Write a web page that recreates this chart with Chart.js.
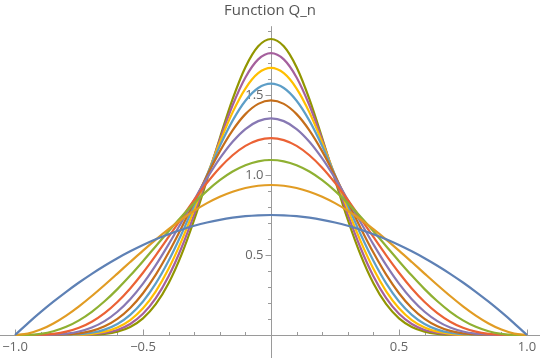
<!DOCTYPE html>
<html>
<head>
<meta charset="utf-8">
<script src="https://cdn.jsdelivr.net/npm/chart.js@4/dist/chart.umd.min.js"></script>
<style>
  html, body { margin: 0; padding: 0; background: #fff; }
  #wrap { width: 540px; height: 358px; }
</style>
</head>
<body>
<div id="wrap"><canvas id="q-chart" width="540" height="358"></canvas></div>
<script>
// sample points of x
const xs = [-1, -0.95, -0.9, -0.85, -0.8, -0.75, -0.7, -0.65, -0.6, -0.55, -0.5, -0.45, -0.4, -0.35, -0.3, -0.25, -0.2, -0.15, -0.1, -0.05,
    0, 0.05, 0.1, 0.15, 0.2, 0.25, 0.3, 0.35, 0.4, 0.45, 0.5, 0.55, 0.6, 0.65, 0.7, 0.75, 0.8, 0.85, 0.9, 0.95, 1]

const q1 = [0, .0731, .1425, .2081, .27, .3281, .3825, .4331, .48, .5231, .5625, .5981, .63, .6581, .6825, .7031, .72, .7331, .7425, .7481,
    .75, .7481, .7425, .7331, .72, .7031, .6825, .6581, .63, .5981, .5625, .5231, .48, .4331, .3825, .3281, .27, .2081, .1425, .0731, 0]
const q2 = [0, .0089, .0338, .0722, .1215, .1794, .2438, .3127, .384, .4561, .5273, .5963, .6615, .7219, .7763, .824, .864, .8958, .9188, .9328,
    .9375, .9328, .9188, .8958, .864, .824, .7763, .7219, .6615, .5963, .5273, .4561, .384, .3127, .2438, .1794, .1215, .0722, .0338, .0089, 0]
const q3 = [0, .001, .0075, .0234, .051, .0916, .1451, .2107, .2867, .3712, .4614, .5548, .6483, .739, .8242, .9012, .9677, 1.0216, 1.0613, 1.0856,
    1.0938, 1.0856, 1.0613, 1.0216, .9677, .9012, .8242, .739, .6483, .5548, .4614, .3712, .2867, .2107, .1451, .0916, .051, .0234, .0075, .001, 0]
const q4 = [0, .0001, .0016, .0073, .0207, .0451, .0832, .1369, .2064, .2912, .3893, .4977, .6126, .7296, .8438, .9505, 1.0451, 1.1234, 1.182, 1.2182,
    1.2305, 1.2182, 1.182, 1.1234, 1.0451, .9505, .8438, .7296, .6126, .4977, .3893, .2912, .2064, .1369, .0832, .0451, .0207, .0073, .0016, .0001, 0]
const q5 = [0, 0, .0003, .0022, .0082, .0217, .0467, .0869, .1453, .2234, .3212, .4366, .5661, .7042, .8446, .9802, 1.1036, 1.208, 1.2872, 1.3367,
    1.3535, 1.3367, 1.2872, 1.208, 1.1036, .9802, .8446, .7042, .5661, .4366, .3212, .2234, .1453, .0869, .0467, .0217, .0082, .0022, .0003, 0, 0]
const q6 = [0, 0, .0001, .0007, .0032, .0103, .0258, .0544, .1008, .1688, .261, .3772, .5151, .6694, .8327, .9955, 1.1478, 1.2792, 1.3805, 1.4445,
    1.4663, 1.4445, 1.3805, 1.2792, 1.1478, .9955, .8327, .6694, .5151, .3772, .261, .1688, .1008, .0544, .0258, .0103, .0032, .0007, .0001, 0, 0]
const q7 = [0, 0, 0, .0002, .0012, .0048, .0141, .0337, .0691, .1262, .2097, .3223, .4636, .6294, .8119, .9999, 1.1805, 1.3397, 1.4643, 1.5438,
    1.571, 1.5438, 1.4643, 1.3397, 1.1805, .9999, .8119, .6294, .4636, .3223, .2097, .1262, .0691, .0337, .0141, .0048, .0012, .0002, 0, 0, 0]
const q8 = [0, 0, 0, .0001, .0005, .0022, .0076, .0207, .047, .0935, .1671, .2731, .4138, .5868, .785, .9961, 1.2042, 1.3914, 1.5403, 1.6361,
    1.6692, 1.6361, 1.5403, 1.3914, 1.2042, .9961, .785, .5868, .4138, .2731, .1671, .0935, .047, .0207, .0076, .0022, .0005, .0001, 0, 0, 0]
const q9 = [0, 0, 0, 0, .0002, .001, .0041, .0126, .0317, .0688, .1323, .2299, .3669, .5435, .754, .9857, 1.2202, 1.4357, 1.6096, 1.7227,
    1.762, 1.7227, 1.6096, 1.4357, 1.2202, .9857, .754, .5435, .3669, .2299, .1323, .0688, .0317, .0126, .0041, .001, .0002, 0, 0, 0, 0]
const q10 = [0, 0, 0, 0, .0001, .0005, .0022, .0076, .0213, .0504, .1042, .1925, .3236, .5008, .7204, .9703, 1.23, 1.4735, 1.6732, 1.8043,
    1.8501, 1.8043, 1.6732, 1.4735, 1.23, .9703, .7204, .5008, .3236, .1925, .1042, .0504, .0213, .0076, .0022, .0005, .0001, 0, 0, 0, 0]

const series = [q1, q2, q3, q4, q5, q6, q7, q8, q9, q10]
const colors = ['#5E81B5', '#E19C24', '#8FB032', '#EB6235', '#8778B3', '#C56E1A', '#5D9EC7', '#FFBF00', '#A5609D', '#929600']

const x_ticks = [-1.0, -0.5, 0.5, 1.0]
const y_ticks = [0.5, 1.0, 1.5]
const title_text = 'Function Q_n'

const fmt = (v) => (v < 0 ? '\u2212' : '') + Math.abs(v).toFixed(1)

const axesPlugin = {
    id: 'mma-axes',
    beforeDatasetsDraw: (chart) => {
        const ctx = chart.ctx
        const sx = chart.scales.x
        const sy = chart.scales.y
        const x0 = Math.round(sx.getPixelForValue(0)) + 0.5
        const y0 = Math.round(sy.getPixelForValue(0)) + 0.5
        ctx.save()
        ctx.strokeStyle = '#9a9a9a'
        ctx.lineWidth = 1
        // axis lines
        ctx.beginPath()
        ctx.moveTo(0, y0)
        ctx.lineTo(540, y0)
        ctx.moveTo(x0, sy.getPixelForValue(1.93))
        ctx.lineTo(x0, 358)
        ctx.stroke()
        // x ticks, minor every 0.1
        ctx.beginPath()
        for (let i = -10; i <= 10; i++) {
            if (i === 0) continue
            const px = Math.round(sx.getPixelForValue(i / 10)) + 0.5
            const len = (i % 5 === 0) ? 6 : 3.5
            ctx.moveTo(px, y0)
            ctx.lineTo(px, y0 - len)
        }
        // y ticks
        for (let i = 1; i <= 19; i++) {
            const py = Math.round(sy.getPixelForValue(i / 10)) + 0.5
            const len = (i % 5 === 0) ? 6 : 3.5
            ctx.moveTo(x0, py)
            ctx.lineTo(x0 - len, py)
        }
        ctx.stroke()

        ctx.fillStyle = '#666666'
        ctx.font = '13px "Open Sans", "DejaVu Sans", sans-serif'
        ctx.textAlign = 'center'
        ctx.textBaseline = 'middle'
        x_ticks.forEach(v => {
            ctx.fillText(fmt(v), sx.getPixelForValue(v), y0 + 12)
        })
        ctx.textAlign = 'right'
        y_ticks.forEach(v => {
            ctx.fillText(fmt(v), x0 - 8, sy.getPixelForValue(v))
        })
        ctx.font = '15px "Open Sans", "DejaVu Sans", sans-serif'
        ctx.fillStyle = '#555555'
        ctx.textAlign = 'center'
        ctx.fillText(title_text, 270, 11)
        ctx.restore()
    }
}

const datasets = series.map((s, k) => ({
    label: 'Q' + (k + 1),
    data: xs.map((x, i) => ({x: x, y: s[i]})),
    borderColor: colors[k],
    borderWidth: 2.2,
    pointRadius: 0,
    fill: false,
    cubicInterpolationMode: 'monotone',
}))

new Chart(document.getElementById('q-chart'), {
    type: 'line',
    data: {datasets: datasets},
    options: {
        responsive: false,
        animation: false,
        maintainAspectRatio: false,
        layout: {padding: 0},
        plugins: {
            legend: {display: false},
            title: {display: false},
            tooltip: {enabled: false}
        },
        scales: {
            x: {type: 'linear', min: -1.0586, max: 1.0508, display: false},
            y: {type: 'linear', min: -0.14375, max: 2.09375, display: false}
        }
    },
    plugins: [axesPlugin]
})
</script>
</body>
</html>
